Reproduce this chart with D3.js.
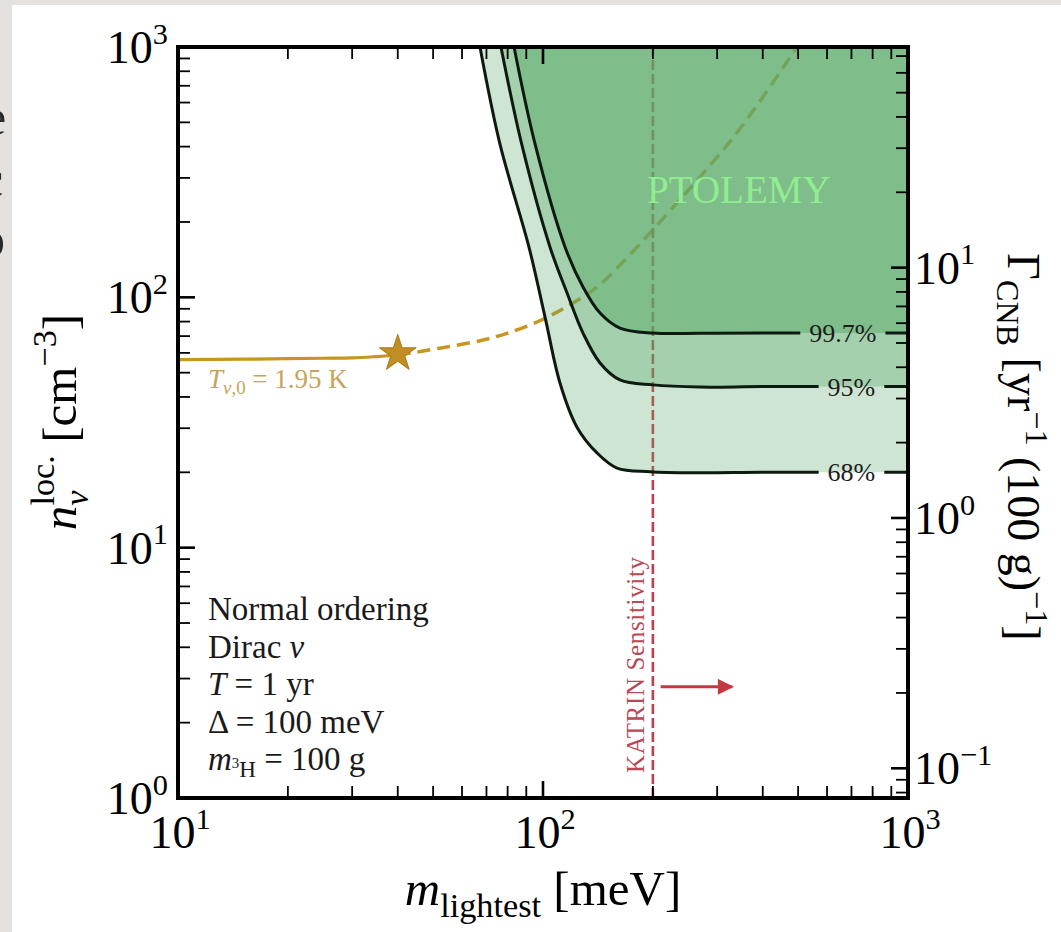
<!doctype html>
<html>
<head>
<meta charset="UTF-8">
<title>CNB capture rate - PTOLEMY</title>
<script src="https://d3js.org/d3.v7.min.js"></script>
<style>
body{margin:0;background:#e4e1de;}
svg{display:block;}
text{font-family:"Liberation Serif","DejaVu Serif",serif;}
</style>
</head>
<body>
<svg id="chart" width="1061" height="932"></svg>
<script>
// ---- values ----
var massDomain = [10, 1000];          // m_lightest [meV]
var densDomain = [1, 1000];           // n_nu^loc [cm^-3]
var rateDomain = [0.0761, 76.1];      // Gamma_CNB [yr^-1 (100 g)^-1]
var massTicks = [10, 100, 1000];
var densTicks = [1, 10, 100, 1000];
var rateTicks = [0.1, 1, 10];

// confidence contours (lower edge of each excluded region)
var mass68 = [67.2, 76.2, 91.5, 101.3, 111.3, 123.9, 140.6, 159.5, 196.5, 269, 400, 1000];
var dens68 = [1000, 410, 159, 83.4, 45.5, 30.3, 23.9, 20.8, 20.1, 19.9, 20, 20];
var mass95 = [76.7, 87.4, 104.5, 116.4, 128.7, 143.3, 162.5, 200, 269, 400, 1000];
var dens95 = [1000, 410, 159, 104, 72, 54.7, 46.8, 44.7, 43.8, 44, 44];
var mass997 = [83.3, 95.1, 114.9, 128.7, 143.3, 162.5, 200, 269, 400, 1000];
var dens997 = [1000, 410, 159, 110, 86.6, 75.4, 72, 71.8, 72, 72];
var confNames = ["68%", "95%", "99.7%"];
var confLabelMass = [700, 700, 663];

// relic density curve (solid up to the star, dashed after)
var relicMass = [10, 15, 20, 25, 30, 35, 40];
var relicDens = [56.4, 56.6, 56.9, 57.1, 57.3, 58.0, 58.8];
var relicMassDash = [40, 45.2, 55, 68.5, 80, 96.3, 115, 140.6, 170, 200, 235, 269, 330, 400, 484, 497];
var relicDensDash = [58.8, 60.5, 63.5, 67.5, 72, 79.7, 91, 110, 144, 186, 242, 302, 430, 630, 946, 1000];
var starMass = 40, starDens = 59.5;

var katrinMass = 200;
var katrinArrow = [210, 330];
var katrinArrowDens = 2.78;

var infoLines = [
    [{t: "Normal ordering"}],
    [{t: "Dirac "}, {t: "ν", i: 1}],
    [{t: "T", i: 1}, {t: " = 1 yr"}],
    [{t: "Δ = 100 meV"}],
    [{t: "m", i: 1}, {t: "3", s: 0.45, dy: -0.05}, {t: "H", s: 0.7, dy: 0.2}, {t: " = 100 g", dy: 0}]
];

// ---- layout ----
var L = 178, R = 908, T = 47, B = 798;
var svg = d3.select("#chart");
var x = d3.scaleLog().domain(massDomain).range([L, R]);
var y = d3.scaleLog().domain(densDomain).range([B, T]);
var yR = d3.scaleLog().domain(rateDomain).range([B, T]);

var gold = "#c8951f", red = "#c0404c";

// page card + bits of slide text at the left edge
svg.append("rect").attr("x", 12).attr("y", 5).attr("width", 1049).attr("height", 927).attr("fill", "#fff");
svg.append("clipPath").attr("id", "edge").append("rect").attr("x", 0).attr("y", 0).attr("width", 11).attr("height", 932);
var edge = svg.append("g").attr("clip-path", "url(#edge)").attr("fill", "#2a2a2a")
    .style("font-family", "'Open Sans',sans-serif").attr("font-size", 50);
edge.append("text").attr("x", -16).attr("y", 134).text("e");
edge.append("text").attr("x", -19).attr("y", 196).text("c");
edge.append("text").attr("x", -20).attr("y", 256).text("p");

function rich(g, parts, size) {
    var text = g.append("text").attr("font-size", size);
    var cur = 0;
    parts.forEach(function(p) {
        var sh = (p.dy || 0) * size;
        var ts = text.append("tspan").text(p.t)
            .attr("font-size", size * (p.s || 1))
            .attr("dy", sh - cur);
        if (p.i) ts.attr("font-style", "italic");
        if (p.dx) ts.attr("dx", p.dx * size);
        cur = sh;
    });
    return text;
}

function pts(ms, ns) {
    return ms.map(function(m, i) { return [m, ns[i]]; });
}

svg.append("clipPath").attr("id", "plot").append("rect")
    .attr("x", L).attr("y", T).attr("width", R - L).attr("height", B - T);
var plot = svg.append("g").attr("clip-path", "url(#plot)");

var line = d3.line().x(function(d) { return x(d[0]); }).y(function(d) { return y(d[1]); })
    .curve(d3.curveCatmullRom.alpha(0.5));

// lines that sit under the shaded regions
plot.append("path").attr("d", line(pts(relicMass, relicDens)))
    .attr("fill", "none").attr("stroke", gold).attr("stroke-width", 3.2);
plot.append("path").attr("d", line(pts(relicMassDash, relicDensDash)))
    .attr("fill", "none").attr("stroke", gold).attr("stroke-width", 3.5)
    .attr("stroke-dasharray", "13 7");
plot.append("line")
    .attr("x1", x(katrinMass)).attr("x2", x(katrinMass))
    .attr("y1", y(densDomain[0])).attr("y2", y(densDomain[1]))
    .attr("stroke", red).attr("stroke-width", 2.6).attr("stroke-dasharray", "10 4");

// shaded regions
var contours = [pts(mass68, dens68), pts(mass95, dens95), pts(mass997, dens997)];
var alphas = [0.3, 0.35, 0.5];
contours.forEach(function(c, i) {
    plot.append("path")
        .attr("d", line(c) + "L" + x(massDomain[1]) + "," + y(densDomain[1]) + "Z")
        .attr("fill", "rgb(90,170,105)").attr("fill-opacity", alphas[i]);
});

// contour labels + gaps in the lines
var mask = svg.append("mask").attr("id", "gaps");
mask.append("rect").attr("x", 0).attr("y", 0).attr("width", 1061).attr("height", 932).attr("fill", "#fff");
var labG = svg.append("g");
contours.forEach(function(c, i) {
    var n = c[c.length - 1][1];
    var t = labG.append("text").attr("x", x(confLabelMass[i])).attr("y", y(n) + 9)
        .attr("text-anchor", "middle").attr("font-size", 26).attr("fill", "#1c1c1c")
        .text(confNames[i]);
    var w = t.node().getComputedTextLength();
    mask.append("rect").attr("x", x(confLabelMass[i]) - w / 2 - 9).attr("y", y(n) - 12)
        .attr("width", w + 18).attr("height", 24).attr("fill", "#000");
});
var lineG = plot.append("g").attr("mask", "url(#gaps)");
contours.forEach(function(c) {
    lineG.append("path").attr("d", line(c)).attr("fill", "none")
        .attr("stroke", "#0d1a10").attr("stroke-width", 3);
});

// PTOLEMY
svg.append("text").attr("x", x(344)).attr("y", y(238)).attr("text-anchor", "middle")
    .attr("font-size", 39).attr("fill", "#90ee90").text("PTOLEMY");

// star + relic label
svg.append("path").attr("d", d3.symbol().type(d3.symbolStar).size(420)())
    .attr("transform", "translate(" + x(starMass) + "," + y(starDens) + ")")
    .attr("fill", "#c08e22").attr("stroke", "#a87a16").attr("stroke-width", 1);
var tl = rich(svg, [{t: "T", i: 1}, {t: "ν", i: 1, s: 0.7, dy: 0.22}, {t: ",0", s: 0.7, dy: 0.22}, {t: " = 1.95 K", dy: 0}], 27);
tl.attr("x", 208).attr("y", 388).attr("fill", "#c7a458");

// KATRIN
svg.append("text")
    .attr("transform", "translate(" + (x(katrinMass) - 9) + "," + 773 + ") rotate(-90)")
    .attr("font-size", 25).attr("fill", "#b84853").attr("textLength", 216)
    .text("KATRIN Sensitivity");
svg.append("defs").append("marker").attr("id", "head").attr("viewBox", "0 0 10 10")
    .attr("refX", 9).attr("refY", 5).attr("markerWidth", 22).attr("markerHeight", 16)
    .attr("markerUnits", "userSpaceOnUse").attr("orient", "auto")
    .append("path").attr("d", "M0,0L10,5L0,10Z").attr("fill", "#c23a3f");
svg.append("line").attr("x1", x(katrinArrow[0])).attr("x2", x(katrinArrow[1]))
    .attr("y1", y(katrinArrowDens)).attr("y2", y(katrinArrowDens))
    .attr("stroke", "#c23a3f").attr("stroke-width", 3).attr("marker-end", "url(#head)");

// info block
infoLines.forEach(function(parts, i) {
    rich(svg, parts, 33).attr("x", 208).attr("y", 620 + i * 37.5).attr("fill", "#1a1a1a");
});

// ---- axes ----
var ax = svg.append("g").attr("stroke", "#000");
function isMajor(v) { var l = Math.log10(v); return Math.abs(l - Math.round(l)) < 1e-9; }
x.ticks().forEach(function(v) {
    var len = isMajor(v) ? 17 : 12, w = isMajor(v) ? 2.6 : 1.8;
    ax.append("line").attr("x1", x(v)).attr("x2", x(v)).attr("y1", B).attr("y2", B - len).attr("stroke-width", w);
    ax.append("line").attr("x1", x(v)).attr("x2", x(v)).attr("y1", T).attr("y2", T + len).attr("stroke-width", w);
});
y.ticks().forEach(function(v) {
    var len = isMajor(v) ? 17 : 12, w = isMajor(v) ? 2.6 : 1.8;
    ax.append("line").attr("x1", L).attr("x2", L + len).attr("y1", y(v)).attr("y2", y(v)).attr("stroke-width", w);
});
yR.ticks().forEach(function(v) {
    var len = isMajor(v) ? 17 : 12, w = isMajor(v) ? 2.6 : 1.8;
    ax.append("line").attr("x1", R).attr("x2", R - len).attr("y1", yR(v)).attr("y2", yR(v)).attr("stroke-width", w);
});
svg.append("rect").attr("x", L).attr("y", T).attr("width", R - L).attr("height", B - T)
    .attr("fill", "none").attr("stroke", "#000").attr("stroke-width", 4);

function powLabel(v) {
    var e = Math.round(Math.log10(v));
    return [{t: "10"}, {t: String(e).replace("-", "\u2212"), s: 0.66, dy: -0.42}];
}
massTicks.forEach(function(v) {
    rich(svg, powLabel(v), 46).attr("x", x(v) + 2).attr("y", B + 50).attr("text-anchor", "middle");
});
densTicks.forEach(function(v) {
    rich(svg, powLabel(v), 46).attr("x", 168).attr("y", y(v) + 16).attr("text-anchor", "end");
});
rateTicks.forEach(function(v) {
    rich(svg, powLabel(v), 46).attr("x", 914).attr("y", yR(v) + 16).attr("text-anchor", "start");
});

// axis titles
rich(svg, [{t: "m", i: 1}, {t: "lightest", s: 0.7, dy: 0.25}, {t: " [meV]", dy: 0}], 49)
    .attr("x", (L + R) / 2).attr("y", 905).attr("text-anchor", "middle");
rich(svg, [{t: "n", i: 1}, {t: "ν", i: 1, s: 0.7, dy: 0.25}, {t: "loc.", s: 0.7, dy: -0.45, dx: -0.31},
           {t: " [cm", dy: 0}, {t: "\u22123", s: 0.7, dy: -0.4}, {t: "]", dy: 0}], 49)
    .attr("text-anchor", "middle").attr("transform", "translate(76,422) rotate(-90)");
rich(svg, [{t: "Γ"}, {t: "CNB", s: 0.7, dy: 0.25}, {t: " [yr", dy: 0}, {t: "\u22121", s: 0.7, dy: -0.4},
           {t: " (100 g)", dy: 0}, {t: "\u22121", s: 0.7, dy: -0.4}, {t: "]", dy: 0}], 46)
    .attr("text-anchor", "middle").attr("transform", "translate(1008,447) rotate(90)");
</script>
</body>
</html>
